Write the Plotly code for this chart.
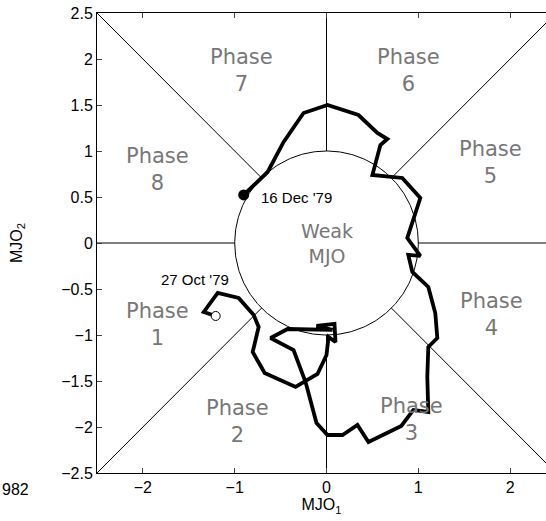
import numpy as np
import plotly.graph_objects as go

# RMM trajectory 27 Oct '79 -> 16 Dec '79
mjo1 = [-1.207, -1.337, -1.185, -0.957, -0.793, -0.739, -0.804, -0.674, -0.337, -0.098,
        0.0, 0.022, 0.098, 0.087, -0.109, 0.065, -0.424, -0.609, -0.359, -0.228,
        -0.109, 0.011, 0.174, 0.337, 0.457, 0.815, 0.946, 1.109, 1.098, 1.109,
        1.207, 1.185, 1.109, 0.935, 0.891, 1.022, 0.880, 1.022, 0.826, 0.5,
        0.587, 0.663, 0.554, 0.348, 0.011, -0.25, -0.467, -0.641, -0.902]
mjo2 = [-0.793, -0.75, -0.543, -0.598, -0.783, -0.913, -1.185, -1.413, -1.565, -1.424,
        -1.217, -1.022, -1.076, -0.880, -0.902, -0.945, -0.935, -1.033, -1.163, -1.511,
        -1.957, -2.087, -2.087, -1.978, -2.163, -1.989, -1.815, -1.837, -1.457, -1.130,
        -1.033, -0.761, -0.478, -0.315, -0.130, -0.141, 0.054, 0.489, 0.707, 0.739,
        1.065, 1.130, 1.196, 1.391, 1.5, 1.413, 1.098, 0.772, 0.522]

phase_names = ["Phase<br>1", "Phase<br>2", "Phase<br>3", "Phase<br>4",
               "Phase<br>5", "Phase<br>6", "Phase<br>7", "Phase<br>8"]
phase_x = [-1.84, -0.97, 0.93, 1.80, 1.79, 0.89, -0.93, -1.84]
phase_y = [-0.89, -1.94, -1.92, -0.78, 0.88, 1.88, 1.88, 0.80]

start_label = "27 Oct '79"
end_label = "16 Dec '79"
x_ticks = [-2, -1, 0, 1, 2]
y_ticks = [-2.5, -2, -1.5, -1, -0.5, 0, 0.5, 1, 1.5, 2, 2.5]

fig = go.Figure()

# phase boundary lines
r = np.sqrt(0.5)
segs = [((-2.5, -1), (0, 0)), ((1, 2.5), (0, 0)), ((0, 0), (1, 2.5)), ((0, 0), (-2.5, -1)),
        ((r, 2.5), (r, 2.5)), ((-r, -2.5), (-r, -2.5)), ((r, 2.5), (-r, -2.5)), ((-r, -2.5), (r, 2.5))]
bx, by = [], []
for sx, sy in segs:
    bx += [sx[0], sx[1], None]
    by += [sy[0], sy[1], None]
fig.add_trace(go.Scatter(x=bx, y=by, mode="lines", line=dict(color="black", width=1),
                         hoverinfo="skip", showlegend=False))
th = np.linspace(0, 2 * np.pi, 361)
fig.add_trace(go.Scatter(x=np.cos(th), y=np.sin(th), mode="lines",
                         line=dict(color="black", width=1), hoverinfo="skip", showlegend=False))

# trajectory
fig.add_trace(go.Scatter(x=mjo1, y=mjo2, mode="lines", line=dict(color="black", width=3.8),
                         showlegend=False))
fig.add_trace(go.Scatter(x=[mjo1[0]], y=[mjo2[0]], mode="markers",
                         marker=dict(size=9, color="white", line=dict(color="black", width=1)),
                         showlegend=False))
fig.add_trace(go.Scatter(x=[mjo1[-1]], y=[mjo2[-1]], mode="markers",
                         marker=dict(size=11, color="black"), showlegend=False))

for name, px, py in zip(phase_names, phase_x, phase_y):
    fig.add_annotation(x=px, y=py, text=name, showarrow=False,
                       font=dict(family="DejaVu Sans", size=21, color="#777777"))
fig.add_annotation(x=0, y=0, text="Weak<br>MJO", showarrow=False,
                   font=dict(family="DejaVu Sans", size=19, color="#777777"))

fig.add_annotation(x=-1.435, y=-0.40, text=start_label, showarrow=False,
                   font=dict(family="Liberation Sans", size=15, color="black"))
fig.add_annotation(x=-0.74, y=0.50, text=end_label, showarrow=False, xanchor="left",
                   font=dict(family="Liberation Sans", size=15, color="black"))

fig.add_annotation(xref="paper", yref="paper", x=-97 / 449, y=-17 / 460, text="982",
                   showarrow=False, xanchor="left", yanchor="middle",
                   font=dict(family="Liberation Sans", size=16, color="black"))

fig.update_layout(
    width=546, height=521,
    margin=dict(l=97, r=0, t=13, b=48),
    plot_bgcolor="white", paper_bgcolor="white",
    font=dict(family="Liberation Sans", size=16, color="black"),
)
fig.update_xaxes(range=[-2.5, 2.391], tickvals=x_ticks, ticks="inside", ticklen=5,
                 showline=True, linecolor="black", linewidth=1, mirror="ticks",
                 showgrid=False, zeroline=False,
                 title=dict(text="MJO<sub>1</sub>", standoff=0, font=dict(size=16)))
fig.update_yaxes(range=[-2.5, 2.5], tickvals=y_ticks, ticks="inside", ticklen=5,
                 showline=True, linecolor="black", linewidth=1,
                 showgrid=False, zeroline=False,
                 title=dict(text="MJO<sub>2</sub>", standoff=34, font=dict(size=16)))

fig.write_html("out.html")
